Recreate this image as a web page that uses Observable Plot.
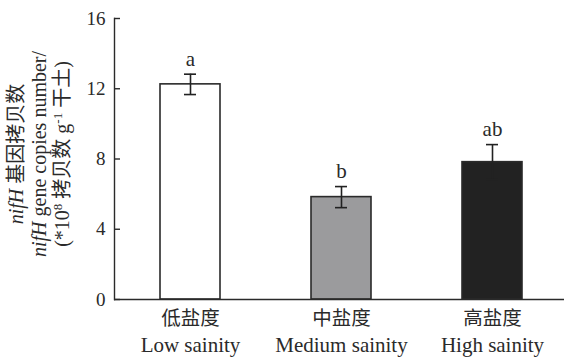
<!DOCTYPE html>
<html>
<head>
<meta charset="utf-8">
<script src="https://cdn.jsdelivr.net/npm/d3@7"></script>
<script src="https://cdn.jsdelivr.net/npm/@observablehq/plot@0.6"></script>
<style>
  html, body { margin: 0; padding: 0; background: #fff; }
  #chart svg { display: block; }
</style>
</head>
<body>
<div id="chart"></div>
<script>
const categoriesZh = ["低盐度", "中盐度", "高盐度"];
const categoriesEn = ["Low sainity", "Medium sainity", "High sainity"];
const means = [12.25, 5.83, 7.82];
const errors = [0.58, 0.6, 1.0];
const letters = ["a", "b", "ab"];
const fills = ["#ffffff", "#9b9b9d", "#222222"];
const yTicks = [0, 4, 8, 12, 16];

const data = categoriesZh.map((c, i) => ({
  cat: c,
  en: categoriesEn[i],
  mean: means[i],
  lo: means[i] - errors[i],
  hi: means[i] + errors[i],
  letter: letters[i]
}));

const FONT = "'Liberation Serif', 'Times New Roman', 'Noto Sans CJK SC', serif";
const INK = "#2a2a2a";
const ERR = "#222222";

const chart = Plot.plot({
  width: 564,
  height: 358,
  marginLeft: 114,
  marginRight: 0,
  marginTop: 18,
  marginBottom: 59,
  style: { fontFamily: FONT, background: "#fff", color: INK },
  x: { domain: categoriesZh, range: [114, 569], paddingInner: 0.6, paddingOuter: 0.3, align: 0.5, axis: null },
  y: { domain: [0, 16] },
  color: { domain: categoriesZh, range: fills },
  marks: [
    Plot.barY(data, { x: "cat", y: "mean", fill: "cat", stroke: INK, strokeWidth: 1.6 }),
    Plot.ruleX(data, { x: "cat", y1: "lo", y2: "hi", stroke: ERR, strokeWidth: 1.6 }),
    Plot.tickY(data, { x: "cat", y: "hi", stroke: ERR, strokeWidth: 1.6, insetLeft: 24, insetRight: 24 }),
    Plot.tickY(data, { x: "cat", y: "lo", stroke: ERR, strokeWidth: 1.6, insetLeft: 24, insetRight: 24 }),
    Plot.text(data, { x: "cat", y: "hi", text: "letter", dy: -15, fontSize: 21, fill: INK, fontFamily: FONT }),
    Plot.axisY({ ticks: yTicks, tickSize: 0, tickPadding: 9, fontSize: 19, label: null, fill: INK }),
    Plot.tickY(yTicks, { y: d => d, stroke: INK, strokeWidth: 1.4, insetRight: 444 }),
    Plot.frame({ anchor: "left", stroke: INK, strokeWidth: 1.4 }),
    Plot.text(data, { x: "cat", text: "cat", frameAnchor: "bottom", lineAnchor: "middle", dy: 19, fontSize: 19.5, fill: INK, fontFamily: FONT }),
    Plot.text(data, { x: "cat", text: "en", frameAnchor: "bottom", lineAnchor: "middle", dy: 46, fontSize: 21, fill: INK, fontFamily: FONT }),
    Plot.ruleY([0], { stroke: INK, strokeWidth: 1.4 })
  ]
});
document.getElementById("chart").appendChild(chart);

// Y-axis title (three rotated lines)
const svg = d3.select(chart);
const g = svg.append("g")
  .attr("font-family", FONT)
  .attr("font-size", 20)
  .attr("fill", INK)
  .attr("text-anchor", "middle");
const cy = 154;
function line(x) {
  return g.append("text").attr("transform", `translate(${x},${cy}) rotate(-90)`);
}
const l1 = line(23);
l1.append("tspan").attr("font-style", "italic").text("nifH");
l1.append("tspan").text(" 基因拷贝数");
const l2 = line(46);
l2.append("tspan").attr("font-style", "italic").text("nifH");
l2.append("tspan").text(" gene copies number/");
const l3 = line(69);
l3.append("tspan").text("(*10");
l3.append("tspan").attr("font-size", 13).attr("dy", -7).text("8");
l3.append("tspan").attr("dy", 7).text(" 拷贝数 g");
l3.append("tspan").attr("font-size", 13).attr("dy", -7).text("-1");
l3.append("tspan").attr("dy", 7).text(" 干土)");
</script>
</body>
</html>
